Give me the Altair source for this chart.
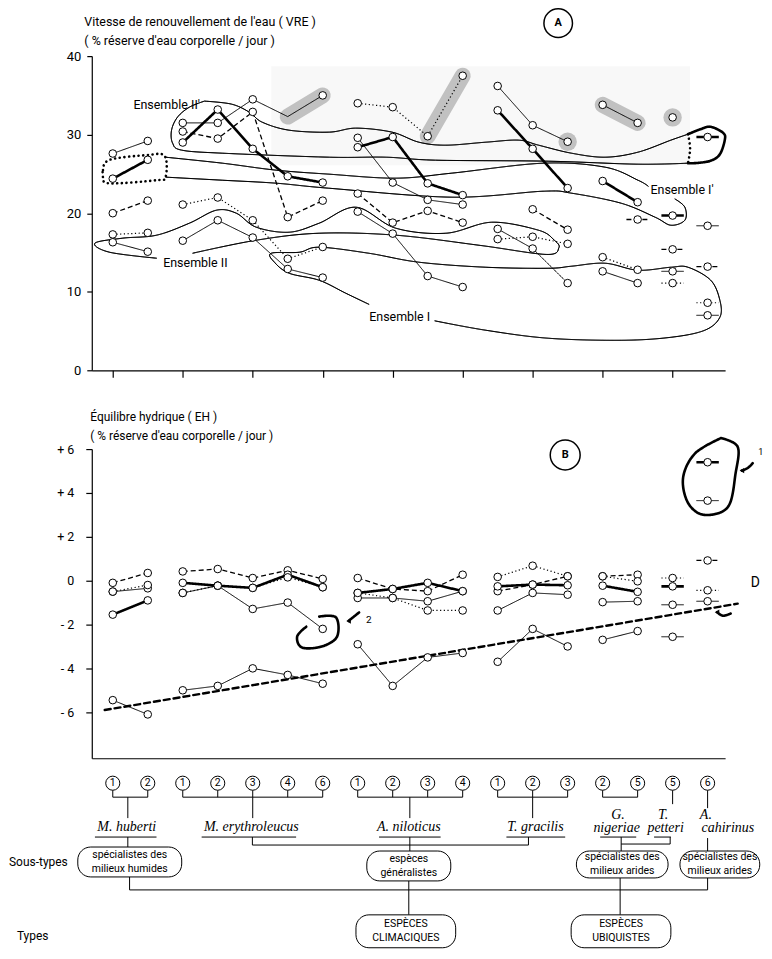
import altair as alt
import pandas as pd

FONT = "Roboto, Liberation Sans, sans-serif"
SERIF = "Liberation Serif, DejaVu Serif, serif"

# ------------------------------------------------------------------ stations
STATIONS = list(range(1, 19))
STATION_NUMBERS = ["1", "2", "1", "2", "3", "4", "6", "1", "2", "3", "4",
                   "1", "2", "3", "2", "5", "5", "6"]

VRE_TITLE = ["Vitesse de renouvellement de l'eau ( VRE )",
             "( % réserve d'eau corporelle / jour )"]
EH_TITLE = ["Équilibre hydrique ( EH )",
            "( % réserve d'eau corporelle / jour )"]
VRE_TICKS = [0, 10, 20, 30, 40]
EH_TICKS = [-6, -4, -2, 0, 2, 4, 6]

# ------------------------------------------------------------------ panel A : VRE
VRE_SERIES = [
    # M. huberti
    ("thin", [1, 2], [27.6, 29.2]),
    ("thick", [1, 2], [24.4, 26.8]),
    ("dashed", [1, 2], [20.0, 21.6]),
    ("dotted", [1, 2], [17.3, 17.5]),
    ("thin", [1, 2], [16.3, 15.1]),
    # M. erythroleucus
    ("thin", [3, 4, 5, 6, 7], [31.5, 31.5, 34.5, 32.3, 35.0]),
    ("thick", [3, 4, 5, 6, 7], [29.0, 33.2, 28.2, 24.7, 23.9]),
    ("dashed", [3, 4, 5, 6, 7], [30.4, 29.5, 32.9, 19.5, 21.6]),
    ("dotted", [3, 4, 5, 6, 7], [21.1, 22.0, 19.1, 14.2, 15.7]),
    ("thin", [3, 4, 5, 6, 7], [16.5, 19.1, 16.9, 12.9, 11.8]),
    # A. niloticus
    ("dotted", [8, 9, 10, 11], [34.0, 33.5, 29.8, 37.5]),
    ("thick", [8, 9, 10, 11], [28.4, 29.7, 23.8, 22.3]),
    ("thin", [8, 9, 10, 11], [29.6, 23.9, 21.7, 21.1]),
    ("dashed", [8, 9, 10, 11], [22.5, 18.8, 20.3, 18.8]),
    ("thin", [8, 9, 10, 11], [20.2, 17.4, 12.0, 10.6]),
    # T. gracilis
    ("thin", [12, 13, 14], [36.2, 31.2, 29.1]),
    ("thick", [12, 13, 14], [33.1, 28.2, 23.2]),
    ("dashed", [13, 14], [20.5, 17.9]),
    ("thin", [12, 13, 14], [18.0, 15.5, 11.1]),
    ("dotted", [12, 13, 14], [16.7, 17.0, 16.1]),
    # G. nigeriae
    ("thin", [15, 16], [33.8, 31.5]),
    ("thick", [15, 16], [24.1, 21.4]),
    ("dotted", [15, 16], [14.4, 12.8]),
    ("thin", [15, 16], [12.6, 11.1]),
]
VRE_SINGLE = [
    ("dashed", 16, 19.2),
    ("plain", 17, 32.2), ("thick", 17, 19.7), ("dashed", 17, 15.4),
    ("thin", 17, 12.6), ("dotted", 17, 11.1),
    ("thick", 18, 29.7), ("thin", 18, 18.4), ("dashed", 18, 13.2),
    ("dotted", 18, 8.6), ("thin", 18, 7.0),
]
VRE_NO_CIRCLE = [(6, 32.3)]
VRE_HIGHLIGHT = [
    ("h1", [(6, 32.3), (7, 35.0)]),
    ("h2", [(10, 29.8), (11, 37.5)]),
    ("h3", [(15, 33.8), (16, 31.5)]),
]
VRE_HIGHLIGHT_POINTS = [(14, 29.1), (17, 32.2)]
# faint grey background of the upper region (station index, VRE)
VRE_SHADE = [(5.53, 17.5, 26.1, 38.7)]

# outlines of the groups (station index, VRE)
ENS_II_PRIME = [(3.62, 34.27), (4.39, 33.89), (4.90, 32.87), (5.27, 31.59), (6.04, 30.57),
                (7.18, 30.32), (7.95, 30.83), (8.98, 30.32), (9.75, 29.04), (10.52, 28.66),
                (11.66, 29.04), (12.60, 29.30), (13.17, 28.66), (14.11, 27.64), (15.07, 27.13),
                (16.01, 27.77), (16.95, 29.30), (17.44, 30.06)]
ENS_II_PRIME_LOW = [(17.44, 26.37), (16.01, 26.24), (13.45, 26.62), (10.23, 26.75),
                    (8.81, 27.13), (7.18, 27.13), (4.13, 27.64), (2.97, 28.03), (2.71, 28.92),
                    (2.68, 30.57), (2.85, 32.23), (3.19, 33.50), (3.62, 34.27)]
ENS_I_PRIME = [(2.51, 27.13), (4.13, 26.37), (5.67, 25.48), (7.18, 24.97), (9.09, 24.46),
               (10.69, 25.10), (13.31, 26.37), (15.07, 25.86), (16.01, 24.20), (16.30, 23.44)]
ENS_I_PRIME_LOW = [(2.51, 24.59), (4.13, 24.20), (5.67, 23.82), (7.18, 23.18), (10.69, 22.04),
                   (13.31, 22.80), (14.11, 22.55), (15.53, 21.27), (16.50, 19.49), (16.95, 18.47),
                   (17.35, 19.11), (17.35, 20.76), (17.07, 21.80)]
ENS_II = [(3.28, 14.90), (5.10, 16.56), (6.90, 17.45), (9.09, 17.20), (11.5, 15.9),
          (13.39, 14.75), (13.75, 15.6), (13.62, 16.56), (13.17, 17.83), (11.83, 18.85),
          (10.52, 17.45), (9.09, 18.09), (7.95, 20.76), (6.90, 18.73), (6.04, 17.58),
          (5.10, 18.22), (4.53, 20.0), (3.96, 20.38), (3.19, 18.73), (2.25, 17.20),
          (1.28, 16.82), (0.49, 16.18), (0.91, 15.03), (2.25, 14.27)]
ENS_I = [(10.2, 6.3), (11.66, 5.10), (13.45, 4.08), (15.53, 3.82), (16.95, 4.20),
         (17.92, 5.10), (18.35, 6.75), (18.35, 8.92), (18.09, 11.46), (17.44, 13.12),
         (16.95, 13.12), (16.01, 12.74), (15.07, 13.63), (14.11, 13.25), (13.45, 12.99),
         (11.66, 13.12), (9.75, 13.76), (8.32, 14.90), (6.90, 15.67), (6.33, 15.03),
         (5.53, 14.90), (5.62, 13.76), (6.04, 12.36), (6.90, 11.46), (7.66, 9.81), (8.32, 8.4)]
DOTTED_BOX = [(0.72, 25.5), (0.91, 26.8), (1.97, 27.4), (2.48, 27.3), (2.51, 24.6),
              (2.25, 24.2), (0.91, 23.8), (0.72, 24.6), (0.72, 25.5)]
BOLD_LOOP_A = [(17.44, 30.06), (17.8, 30.7), (18.09, 31.0), (18.45, 30.2), (18.49, 29.3),
               (18.35, 27.5), (18.1, 26.7), (17.72, 26.4), (17.44, 26.37)]
DOTTED_CUT_A = [(17.44, 30.06), (17.5, 28.2), (17.44, 26.37)]
ENSEMBLE_LABELS = [("Ensemble II'", 2.54, 33.8), ("Ensemble II", 3.36, 13.6),
                   ("Ensemble I", 9.2, 6.75), ("Ensemble I'", 17.27, 22.9)]
PANEL_A_MARK = ("A", 13.73, 44.2)

# ------------------------------------------------------------------ panel B : EH
EH_SERIES = [
    ("dashed", [1, 2], [-0.1, 0.35]),
    ("thin", [1, 2], [-0.5, -0.35]),
    ("dotted", [1, 2], [-0.5, -0.2]),
    ("thick", [1, 2], [-1.55, -0.9]),
    ("thin", [1, 2], [-5.45, -6.1]),
    ("dashed", [3, 4, 5, 6, 7], [0.42, 0.53, 0.12, 0.47, 0.08]),
    ("thick", [3, 4, 5, 6, 7], [-0.1, -0.23, -0.33, 0.27, -0.3]),
    ("dotted", [3, 4, 5, 6, 7], [-0.56, -0.23, -0.33, 0.15, -0.3]),
    ("thin", [3, 4, 5, 6, 7], [-0.56, -0.23, -1.29, -1.0, -2.2]),
    ("thin", [3, 4, 5, 6, 7], [-5.0, -4.8, -4.0, -4.3, -4.7]),
    ("dashed", [8, 9, 10, 11], [0.12, -0.38, -0.48, 0.27]),
    ("thick", [8, 9, 10, 11], [-0.56, -0.38, -0.1, -0.48]),
    ("thin", [8, 9, 10, 11], [-0.79, -0.79, -0.94, -0.48]),
    ("dotted", [8, 9, 10, 11], [-0.56, -0.79, -1.36, -1.36]),
    ("thin", [8, 9, 10, 11], [-2.9, -4.8, -3.5, -3.3]),
    ("dotted", [12, 13, 14], [0.17, 0.68, 0.2]),
    ("dashed", [12, 13, 14], [-0.48, -0.18, 0.2]),
    ("thick", [12, 13, 14], [-0.26, -0.18, -0.21]),
    ("thin", [12, 13, 14], [-1.36, -0.56, -0.64]),
    ("thin", [12, 13, 14], [-3.7, -2.2, -3.0]),
    ("dashed", [15, 16], [0.2, 0.27]),
    ("dotted", [15, 16], [0.2, -0.03]),
    ("thick", [15, 16], [-0.23, -0.51]),
    ("thin", [15, 16], [-0.98, -0.94]),
    ("thin", [15, 16], [-2.7, -2.3]),
]
EH_SINGLE = [
    ("dotted", 17, 0.12), ("thick", 17, -0.26), ("thin", 17, -1.1), ("thin", 17, -2.56),
    ("thick", 18, 5.4), ("thin", 18, 3.65), ("dashed", 18, 0.92),
    ("dotted", 18, -0.44), ("thin", 18, -0.94),
]
TREND_D = [(0.77, -5.9), (18.86, -1.05)]
LOOP_1 = [(18.38, 6.5), (18.86, 6.1), (18.8, 4.9), (18.58, 3.36), (17.9, 3.0),
          (17.44, 3.55), (17.3, 4.7), (17.64, 5.8), (18.38, 6.5)]
LOOP_2 = [(6.9, -1.64), (7.38, -1.68), (7.41, -2.55), (6.98, -3.0), (6.41, -3.05),
          (6.27, -2.55), (6.53, -2.1)]
ARROW_1 = [(19.29, 5.36), (19.15, 5.14), (18.98, 5.02)]
ARROW_2 = [(8.04, -1.45), (7.86, -1.68), (7.74, -1.84)]
ARROW_D = [(18.66, -1.5), (18.44, -1.6), (18.27, -1.44)]
EH_NOTES = [("1", 19.45, 5.85, 9), ("2", 8.24, -1.8, 10), ("D", 19.23, -0.1, 14)]
PANEL_B_MARK = ("B", 13.93, 5.73)

# ------------------------------------------------------------------ classification diagram
DIAG_ROW_Y = 785
DIAG_SEGMENTS = (
    [(s, 792, s, 799) for s in range(1, 17)]
    + [(17, 792, 17, 806), (18, 792, 18, 810),
       (1, 799, 2, 799), (3, 799, 7, 799), (8, 799, 11, 799), (12, 799, 14, 799), (15, 799, 16, 799),
       (1.43, 799, 1.43, 820), (5, 799, 5, 820), (9.49, 799, 9.49, 820), (13, 799, 13, 820),
       (0.49, 839, 2.25, 839), (3.54, 839, 6.24, 839), (8.61, 839, 10.37, 839),
       (12.25, 839, 13.93, 839), (14.93, 839, 15.96, 839), (16.47, 839, 16.95, 839),
       (1.43, 839, 1.43, 849), (4.99, 839, 4.99, 847), (4.99, 847, 12.88, 847),
       (12.88, 839, 12.88, 847), (9.49, 839, 9.49, 853), (15.53, 839, 15.53, 853),
       (15.53, 846, 16.93, 846), (16.93, 839, 16.93, 846), (18.0, 840, 18.0, 853),
       (1.48, 879, 1.48, 892), (1.48, 892, 18.0, 892), (18.0, 880, 18.0, 892),
       (9.46, 883, 9.46, 917), (15.5, 880, 15.5, 917)]
)
SPECIES = [("M. huberti", 1.40, 829), ("M. erythroleucus", 4.96, 829),
           ("A. niloticus", 9.46, 829), ("T. gracilis", 13.08, 829),
           ("G.", 15.44, 816.5), ("nigeriae", 15.40, 830),
           ("T.", 16.73, 816.5), ("petteri", 16.80, 830),
           ("A.", 17.95, 816.5), ("cahirinus", 18.58, 830)]
BOXES = [
    (0.0, 2.97, 849, 879, ["spécialistes des", "milieux humides"]),
    (8.26, 10.66, 853, 883, ["espèces", "généralistes"]),
    (14.25, 16.87, 853, 880, ["spécialistes des", "milieux arides"]),
    (17.21, 19.49, 853, 880, ["spécialistes des", "milieux arides"]),
    (7.95, 10.8, 917, 950, ["ESPÈCES", "CLIMACIQUES"]),
    (14.1, 16.95, 917, 950, ["ESPÈCES", "UBIQUISTES"]),
]
SIDE_LABELS = [("Sous-types", -1.965, 864), ("Types", -1.74, 938)]

# ------------------------------------------------------------------ helpers
LINE_STYLE = {"thick": (2.6, [1, 0]), "thin": (1.0, [1, 0]),
              "dashed": (1.3, [5, 3]), "dotted": (1.2, [1.2, 2.5])}
PATH_STYLE = {"outline": (1.0, [1, 0]), "bold": (2.6, [1, 0]),
              "dotbold": (2.6, [0.1, 4.6]), "trend": (2.4, [6, 4])}

XS = alt.Scale(domain=[0.4, 18.5], nice=False, zero=False)
VS = alt.Scale(domain=[0, 40], nice=False, zero=False)
ES = alt.Scale(domain=[-8.1, 6], nice=False, zero=False)
DS = alt.Scale(domain=[450, 760], reverse=True, nice=False, zero=False)


# the non-axis layers leave "axis" unspecified: the explicit axis of the
# first layer then wins when Vega-Lite merges the shared axes
def X(field="x"):
    return alt.X(f"{field}:Q", scale=XS)


def Y(scale, field="v"):
    return alt.Y(f"{field}:Q", scale=scale)


def DY(field="py"):
    return alt.Y(f"{field}:Q", scale=DS, axis=None)


def frame_series(series, prefix):
    rows = []
    for k, (style, xs, vs) in enumerate(series):
        for x, v in zip(xs, vs):
            rows.append({"sid": f"{prefix}{k}", "style": style, "x": x, "v": v})
    return pd.DataFrame(rows)


def frame_single(single):
    return pd.DataFrame([{"style": s, "x": x, "v": v} for s, x, v in single])


def frame_paths(paths):
    rows = []
    for pid, style, pts in paths:
        for k, (x, v) in enumerate(pts):
            rows.append({"pid": pid, "style": style, "ord": k, "x": x, "v": v})
    return pd.DataFrame(rows)


def path_layers(df, scale, interpolate="cardinal"):
    out = []
    for style, (w, dash) in PATH_STYLE.items():
        d = df[df["style"] == style]
        if len(d):
            out.append(alt.Chart(d).mark_line(color="black", strokeWidth=w, strokeDash=dash,
                                              interpolate=interpolate, strokeCap="round")
                       .encode(x=X(), y=Y(scale), detail="pid:N", order="ord:Q"))
    return out


def axis_carrier(df, scale, xaxis, yaxis):
    return (alt.Chart(df).mark_point(opacity=0, size=1)
            .encode(x=alt.X("x:Q", scale=XS, axis=xaxis),
                    y=alt.Y("v:Q", scale=scale, axis=yaxis)))


def data_layers(sdf, gdf, scale, no_circle=()):
    out = []
    for style, (w, dash) in LINE_STYLE.items():
        d = sdf[sdf["style"] == style]
        if len(d):
            out.append(alt.Chart(d).mark_line(color="black", strokeWidth=w, strokeDash=dash)
                       .encode(x=X(), y=Y(scale), detail="sid:N", order="x:Q"))
    for style, (w, dash) in LINE_STYLE.items():
        d = gdf[gdf["style"] == style]
        if len(d):
            out.append(alt.Chart(d)
                       .transform_calculate(xa="datum.x - 0.32", xb="datum.x + 0.32")
                       .mark_rule(color="black", strokeWidth=w, strokeDash=dash)
                       .encode(x=X("xa"), x2="xb:Q", y=Y(scale)))
    pts = pd.concat([sdf[["x", "v"]], gdf[["x", "v"]]], ignore_index=True)
    for (nx, nv) in no_circle:
        pts = pts[~((pts["x"] == nx) & (pts["v"] == nv))]
    out.append(alt.Chart(pts).mark_point(shape="circle", size=58, fill="white", stroke="black",
                                         strokeWidth=1, opacity=1)
               .encode(x=X(), y=Y(scale)))
    return out


def badge(letter, x, v, scale, size):
    d = pd.DataFrame([{"t": letter, "x": x, "v": v}])
    base = alt.Chart(d).encode(x=X(), y=Y(scale))
    return [base.mark_point(shape="circle", size=size, fill="white", stroke="black",
                            strokeWidth=1.5, opacity=1),
            base.mark_text(font=FONT, fontSize=11, fontWeight="bold", color="black").encode(text="t:N")]


# ------------------------------------------------------------------ panel A
vre_df = frame_series(VRE_SERIES, "a")
vre_single_all = frame_single(VRE_SINGLE)

hl_df = frame_paths([(hid, "hl", pts) for hid, pts in VRE_HIGHLIGHT])
hl_pts = pd.DataFrame([{"x": x, "v": v} for x, v in VRE_HIGHLIGHT_POINTS])
shade_df = pd.DataFrame([{"x1": a, "x2": b, "v1": c, "v2": d} for a, b, c, d in VRE_SHADE])

top_axis_x = alt.Axis(values=STATIONS, labels=False, ticks=True, tickSize=7, grid=False,
                      title=None, domain=True)
top_axis_y = alt.Axis(values=VRE_TICKS, tickSize=5, labelPadding=6, labelFontSize=13,
                      labelFont=FONT, grid=False, title=VRE_TITLE, titleAngle=0,
                      titleAlign="left", titleBaseline="top", titleX=-8, titleY=-41,
                      titleFont=FONT, titleFontSize=12.5, titleFontWeight="normal",
                      titleLineHeight=19)

outlines_a = frame_paths([
    ("e1", "outline", ENS_II_PRIME), ("e2", "outline", ENS_II_PRIME_LOW),
    ("e3", "outline", ENS_I_PRIME), ("e4", "outline", ENS_I_PRIME_LOW),
    ("e5", "outline", ENS_II), ("e6", "outline", ENS_I),
    ("b1", "dotbold", DOTTED_BOX), ("b2", "bold", BOLD_LOOP_A), ("b3", "dotbold", DOTTED_CUT_A),
])
labels_a = pd.DataFrame([{"t": t, "x": x, "v": v} for t, x, v in ENSEMBLE_LABELS])

layers_a = [
    axis_carrier(vre_df[["x", "v"]], VS, top_axis_x, top_axis_y),
    alt.Chart(shade_df).mark_rect(color="#f8f8f8")
    .encode(x=X("x1"), x2="x2:Q", y=Y(VS, "v1"), y2="v2:Q"),
    alt.Chart(hl_df).mark_line(color="#8a8a8a", opacity=0.5, strokeWidth=16, strokeCap="round")
    .encode(x=X(), y=Y(VS), detail="pid:N", order="ord:Q"),
    alt.Chart(hl_pts).mark_circle(color="#8a8a8a", opacity=0.5, size=340)
    .encode(x=X(), y=Y(VS)),
]
layers_a += path_layers(outlines_a, VS)
layers_a += data_layers(vre_df, vre_single_all, VS, VRE_NO_CIRCLE)
layers_a.append(alt.Chart(labels_a).mark_text(font=FONT, fontSize=12.5, color="black")
                .encode(x=X(), y=Y(VS), text="t:N"))
layers_a += badge(*PANEL_A_MARK, VS, 820)

panel_a = alt.layer(*layers_a).properties(width=635, height=315)

# ------------------------------------------------------------------ panel B + diagram
eh_df = frame_series(EH_SERIES, "b")
eh_single = frame_single(EH_SINGLE)

bot_axis_x = alt.Axis(labels=False, ticks=False, grid=False, title=None, domain=True)
bot_axis_y = alt.Axis(values=EH_TICKS, tickSize=6, labelPadding=12, labelFontSize=12.5,
                      labelFont=FONT, grid=False, title=EH_TITLE, titleAngle=0,
                      labelExpr="datum.value > 0 ? '+ ' + datum.value : (datum.value < 0 ? '- ' + abs(datum.value) : '0')",
                      titleAlign="left", titleBaseline="top", titleX=-2, titleY=-38,
                      titleFont=FONT, titleFontSize=12, titleFontWeight="normal",
                      titleLineHeight=19)

paths_b = frame_paths([("d", "trend", TREND_D), ("l1", "bold", LOOP_1), ("l2", "bold", LOOP_2),
                       ("a1", "bold", ARROW_1), ("a2", "bold", ARROW_2), ("a3", "bold", ARROW_D)])
heads_b = pd.DataFrame([{"x": p[-1][0], "v": p[-1][1]} for p in (ARROW_1, ARROW_2, ARROW_D)])
notes_b = pd.DataFrame([{"t": t, "x": x, "v": v, "s": s} for t, x, v, s in EH_NOTES])

layers_b = [axis_carrier(eh_df[["x", "v"]], ES, bot_axis_x, bot_axis_y)]
layers_b += path_layers(paths_b, ES)
layers_b += data_layers(eh_df, eh_single, ES)
layers_b.append(alt.Chart(heads_b).mark_point(shape="triangle-left", size=28, filled=True,
                                              color="black", opacity=1)
                .encode(x=X(), y=Y(ES)))
for t, x, v, s in EH_NOTES:
    layers_b.append(alt.Chart(notes_b[notes_b["t"] == t]).mark_text(font=FONT, fontSize=s,
                                                                   color="black", align="left")
                    .encode(x=X(), y=Y(ES), text="t:N"))
layers_b += badge(*PANEL_B_MARK, ES, 900)

seg_df = pd.DataFrame([{"x1": a, "y1": b, "x2": c, "y2": d} for a, b, c, d in DIAG_SEGMENTS])
circ_df = pd.DataFrame({"x": STATIONS, "py": [DIAG_ROW_Y] * len(STATIONS), "t": STATION_NUMBERS})
sp_df = pd.DataFrame([{"t": t, "x": x, "py": y} for t, x, y in SPECIES])
box_df = pd.DataFrame([{"x1": a, "x2": b, "y1": c, "y2": d} for a, b, c, d, _ in BOXES])
box_txt = pd.DataFrame([{"t": line, "x": (a + b) / 2,
                         "py": (c + d) / 2 + (k - (len(lines) - 1) / 2) * 14}
                        for a, b, c, d, lines in BOXES for k, line in enumerate(lines)])
side_df = pd.DataFrame([{"t": t, "x": x, "py": y} for t, x, y in SIDE_LABELS])

layers_d = [
    alt.Chart(seg_df).mark_rule(color="black", strokeWidth=1)
    .encode(x=X("x1"), x2="x2:Q", y=DY("y1"), y2="y2:Q"),
    alt.Chart(circ_df).mark_point(shape="circle", size=200, fill="white", stroke="black",
                                  strokeWidth=1, opacity=1)
    .encode(x=X(), y=DY()),
    alt.Chart(circ_df).mark_text(font=FONT, fontSize=10.5, color="black")
    .encode(x=X(), y=DY(), text="t:N"),
    alt.Chart(sp_df).mark_text(font=SERIF, fontStyle="italic", fontSize=14, color="black")
    .encode(x=X(), y=DY(), text="t:N"),
    alt.Chart(box_df).mark_rect(cornerRadius=13, fill="white", stroke="black", strokeWidth=1)
    .encode(x=X("x1"), x2="x2:Q", y=DY("y1"), y2="y2:Q"),
    alt.Chart(box_txt).mark_text(font=FONT, fontSize=10.5, color="black")
    .encode(x=X(), y=DY(), text="t:N"),
    alt.Chart(side_df).mark_text(font=FONT, fontSize=12, color="black", align="left")
    .encode(x=X(), y=DY(), text="t:N"),
]

panel_b = (alt.layer(alt.layer(*layers_b), alt.layer(*layers_d))
           .resolve_scale(y="independent")
           .properties(width=635, height=310))

chart = (alt.vconcat(panel_a, panel_b, spacing=79, bounds="flush")
         .properties(padding={"left": 1, "top": -4, "right": 0, "bottom": 0})
         .configure(font=FONT)
         .configure_view(strokeWidth=0, stroke="transparent")
         .configure_axis(domainColor="black", tickColor="black", labelColor="black",
                         titleColor="black", domainWidth=1.2, tickWidth=1.2))

chart.save("out.html", embed_options={"renderer": "svg", "actions": False})
